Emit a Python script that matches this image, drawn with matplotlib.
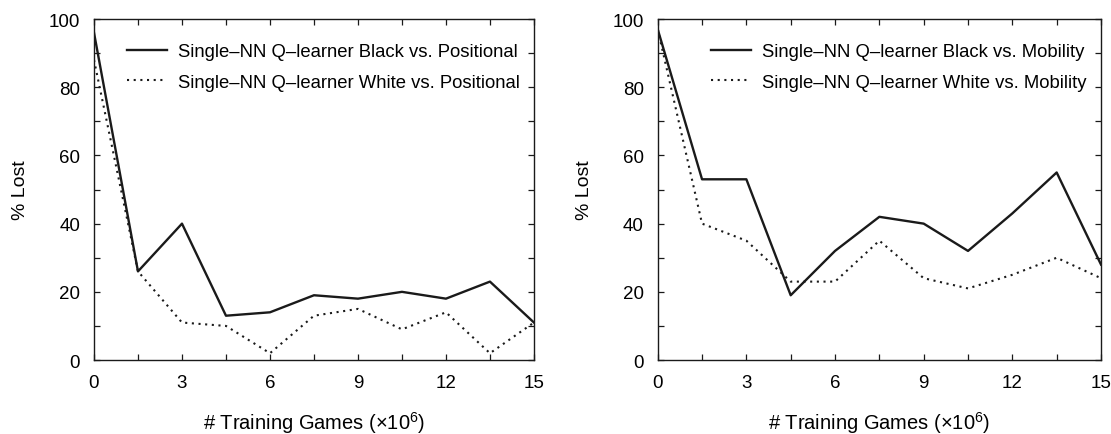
import matplotlib
matplotlib.use("Agg")
import matplotlib.pyplot as plt
from matplotlib.ticker import MultipleLocator

plt.rcParams['font.family'] = ['Liberation Sans', 'DejaVu Sans']
plt.rcParams['mathtext.fontset'] = 'custom'
plt.rcParams['mathtext.rm'] = 'Liberation Sans'
plt.rcParams['mathtext.it'] = 'Liberation Sans'

# training games (x 10^6)
games = [0, 1.5, 3, 4.5, 6, 7.5, 9, 10.5, 12, 13.5, 15]

# % lost vs. Positional
pos_black = [96, 26, 40, 13, 14, 19, 18, 20, 18, 23, 11]
pos_white = [88, 26, 11, 10, 2, 13, 15, 9, 14, 2, 11]

# % lost vs. Mobility
mob_black = [97, 53, 53, 19, 32, 42, 40, 32, 43, 55, 28]
mob_white = [97, 40, 35, 23, 23, 35, 24, 21, 25, 30, 24]

panels = [
    (pos_black, pos_white, "Positional"),
    (mob_black, mob_white, "Mobility"),
]

fig = plt.figure(figsize=(11.11, 4.35), dpi=100)
axes = [fig.add_axes([0.0846, 0.170, 0.396, 0.784]),
        fig.add_axes([0.592, 0.170, 0.399, 0.784])]

ink = "#1a1a1a"
for ax, (black, white, opp) in zip(axes, panels):
    ax.plot(games, black, color=ink, lw=1.7,
            label="Single\u2013NN Q\u2013learner Black vs. " + opp)
    ax.plot(games, white, color=ink, lw=1.5, linestyle=(0, (1, 2.2)),
            label="Single\u2013NN Q\u2013learner White vs. " + opp)
    ax.set_xlim(0, 15)
    ax.set_ylim(0, 100)
    ax.xaxis.set_major_locator(MultipleLocator(3))
    ax.xaxis.set_minor_locator(MultipleLocator(1.5))
    ax.yaxis.set_major_locator(MultipleLocator(20))
    ax.yaxis.set_minor_locator(MultipleLocator(10))
    ax.tick_params(which="both", direction="in", top=True, right=True,
                   length=4, width=0.9, color=ink, labelsize=13.5, pad=10)
    for s in ax.spines.values():
        s.set_linewidth(1.0)
        s.set_color(ink)
    ax.set_xlabel("# Training Games (\u00d710$^{6}$)", fontsize=14.5, labelpad=13)
    ax.set_ylabel("% Lost", fontsize=14, labelpad=14)
    ax.legend(loc="upper right", bbox_to_anchor=(0.985, 0.95), borderaxespad=0,
              frameon=False, fontsize=13.3, handlelength=2.16,
              handletextpad=0.6, labelspacing=0.72)

fig.savefig("out.png", dpi=100)
